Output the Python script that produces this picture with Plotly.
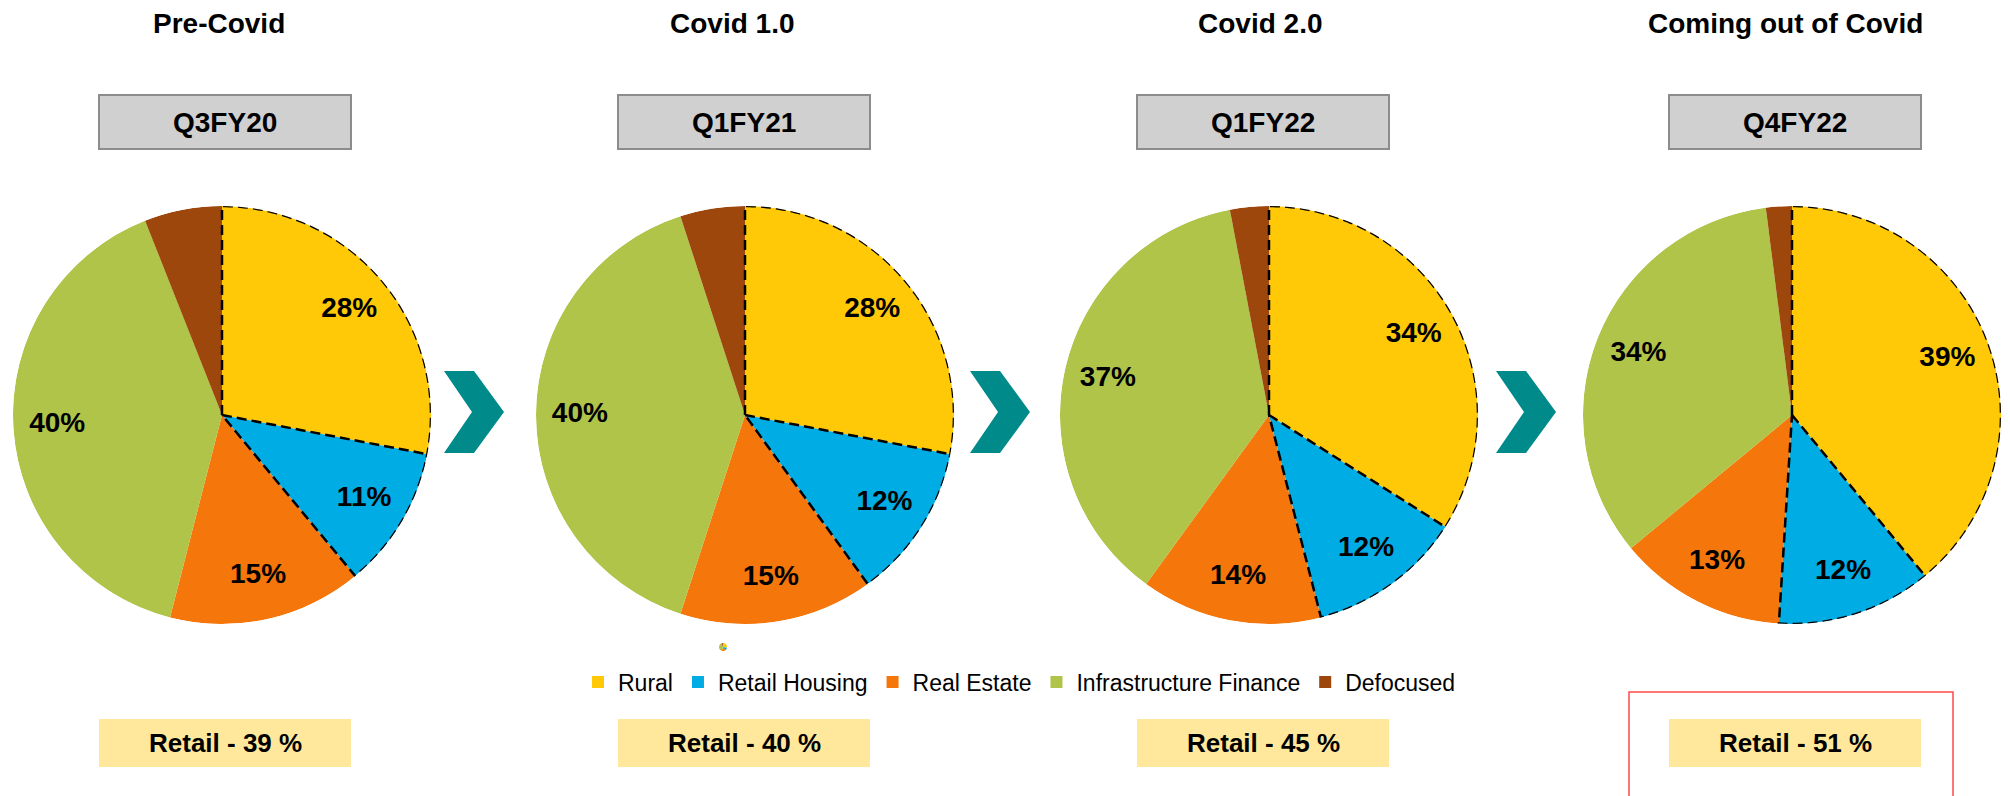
import plotly.graph_objects as go
import numpy as np

# ---------------- data ----------------
categories = ["Rural", "Retail Housing", "Real Estate", "Infrastructure Finance", "Defocused"]
colors = ["#FFC908", "#00ACE4", "#F5760A", "#B0C449", "#9E470D"]
phase_titles = ["Pre-Covid", "Covid 1.0", "Covid 2.0", "Coming out of Covid"]
quarters = ["Q3FY20", "Q1FY21", "Q1FY22", "Q4FY22"]
share_q3fy20 = [28, 11, 15, 40, 6]
share_q1fy21 = [28, 12, 15, 40, 5]
share_q1fy22 = [34, 12, 14, 37, 3]
share_q4fy22 = [39, 12, 13, 34, 2]
retail_share = [39, 40, 45, 51]
shares = [share_q3fy20, share_q1fy21, share_q1fy22, share_q4fy22]

# ---------------- layout (screen pixels) ----------------
PAGE_W, PAGE_H = 2010, 796
OFF = 8                      # default page body margin
W, H = PAGE_W - OFF, PAGE_H - OFF
FONT = "Arial, Liberation Sans, sans-serif"
pie_cx = [222, 745, 1269, 1792]
pie_cy = 415
pie_r = 209
title_x = [219, 732, 1260, 1785]
box_x = [(99, 351), (618, 870), (1137, 1389), (1669, 1921)]
chevron_dx = [0, 526, 1052]


def fx(px):
    return (px - OFF) / W


def fy(py):
    return 1 - (py - OFF) / H


fig = go.Figure()
shapes = []
annotations = []

for i, vals in enumerate(shares):
    cx = pie_cx[i]
    dom = dict(x=[fx(cx - pie_r), fx(cx + pie_r)], y=[fy(pie_cy + pie_r), fy(pie_cy - pie_r)])
    pname = "polar" if i == 0 else f"polar{i + 1}"
    fig.update_layout(**{pname: dict(
        domain=dom, bgcolor="rgba(0,0,0,0)", bargap=0,
        angularaxis=dict(rotation=90, direction="clockwise", visible=False),
        radialaxis=dict(range=[0, 1], visible=False),
    )})
    total = sum(vals)
    cum = np.concatenate([[0], np.cumsum(vals)]) / total * 360.0
    mids = (cum[:-1] + cum[1:]) / 2
    widths = np.diff(cum)
    # pie slices as polar wedges
    for k, cat in enumerate(categories):
        fig.add_trace(go.Barpolar(
            r=[1], theta=[mids[k]], width=[widths[k]], base=0, subplot=pname,
            name=cat, legendgroup=cat, showlegend=(i == 0),
            marker=dict(color=colors[k], line=dict(width=0)),
            hovertemplate=f"{cat}: {vals[k]}%<extra></extra>",
        ))
    # dashed outline around Rural + Retail Housing, plus their shared boundary
    a0, a1, a2 = cum[0], cum[1], cum[2]
    arc = np.linspace(a0, a2, max(int(a2 - a0), 2) + 1)
    th = [a0] + list(arc) + [a2, None, a1, a1]
    rr = [0] + [1] * len(arc) + [0, None, 0, 1]
    fig.add_trace(go.Scatterpolar(
        r=rr, theta=th, mode="lines", subplot=pname, showlegend=False, hoverinfo="skip",
        line=dict(color="black", width=2.5, dash="10px,5px"),
    ))
    radii = [0.79 if v >= 8 else 1.09 for v in vals]
    fig.add_trace(go.Scatterpolar(
        r=radii, theta=list(mids), mode="text", subplot=pname, showlegend=False,
        text=[f"<b>{v}%</b>" for v in vals], cliponaxis=False, hoverinfo="skip",
        textfont=dict(family=FONT, size=28, color="black"),
    ))

    # phase title
    annotations.append(dict(x=fx(title_x[i]), y=fy(24), xref="paper", yref="paper",
                            xanchor="center", yanchor="middle",
                            text=f"<b>{phase_titles[i]}</b>", showarrow=False,
                            font=dict(family=FONT, size=28, color="black")))
    # quarter box
    x0, x1 = box_x[i]
    shapes.append(dict(type="rect", xref="paper", yref="paper", x0=fx(x0), x1=fx(x1),
                       y0=fy(149), y1=fy(95), fillcolor="#D0D0D0",
                       line=dict(color="#8C8C8C", width=2), layer="below"))
    annotations.append(dict(x=fx((x0 + x1) / 2), y=fy(122), xref="paper", yref="paper",
                            xanchor="center", yanchor="middle",
                            text=f"<b>{quarters[i]}</b>", showarrow=False,
                            font=dict(family=FONT, size=28, color="black")))
    # retail box
    shapes.append(dict(type="rect", xref="paper", yref="paper", x0=fx(x0), x1=fx(x1),
                       y0=fy(767), y1=fy(719), fillcolor="#FFE89B",
                       line=dict(width=0), layer="below"))
    annotations.append(dict(x=fx((x0 + x1) / 2), y=fy(743), xref="paper", yref="paper",
                            xanchor="center", yanchor="middle",
                            text=f"<b>Retail - {retail_share[i]} %</b>", showarrow=False,
                            font=dict(family=FONT, size=26, color="black")))

# tiny stray pie
fig.add_trace(go.Pie(
    labels=categories, values=share_q1fy21, sort=False, direction="clockwise", rotation=0,
    marker=dict(colors=colors, line=dict(width=0)), textinfo="none",
    domain=dict(x=[fx(719), fx(727)], y=[fy(651), fy(643)]), showlegend=False,
    hoverinfo="skip",
))

# chevrons
chev = [(444, 371), (474, 371), (504, 412), (474, 453), (444, 453), (472, 412)]
for dx in chevron_dx:
    pts = [(fx(px + dx), fy(py)) for px, py in chev]
    path = "M " + " L ".join(f"{x:.5f},{y:.5f}" for x, y in pts) + " Z"
    shapes.append(dict(type="path", xref="paper", yref="paper", path=path,
                       fillcolor="#008A8A", line=dict(width=0)))

# red highlight rectangle
shapes.append(dict(type="rect", xref="paper", yref="paper", x0=fx(1629), x1=fx(1953),
                   y0=fy(810), y1=fy(692), fillcolor="rgba(0,0,0,0)",
                   line=dict(color="#FF4A4A", width=1.5)))

fig.update_layout(
    width=W, height=H, margin=dict(l=0, r=0, t=0, b=0),
    paper_bgcolor="white", plot_bgcolor="white",
    shapes=shapes, annotations=annotations,
    legend=dict(orientation="h", x=fx(578), y=fy(682), xanchor="left", yanchor="middle",
                font=dict(family=FONT, size=23, color="black"), bgcolor="rgba(0,0,0,0)",
                traceorder="normal"),
)

fig.write_html("out.html")
